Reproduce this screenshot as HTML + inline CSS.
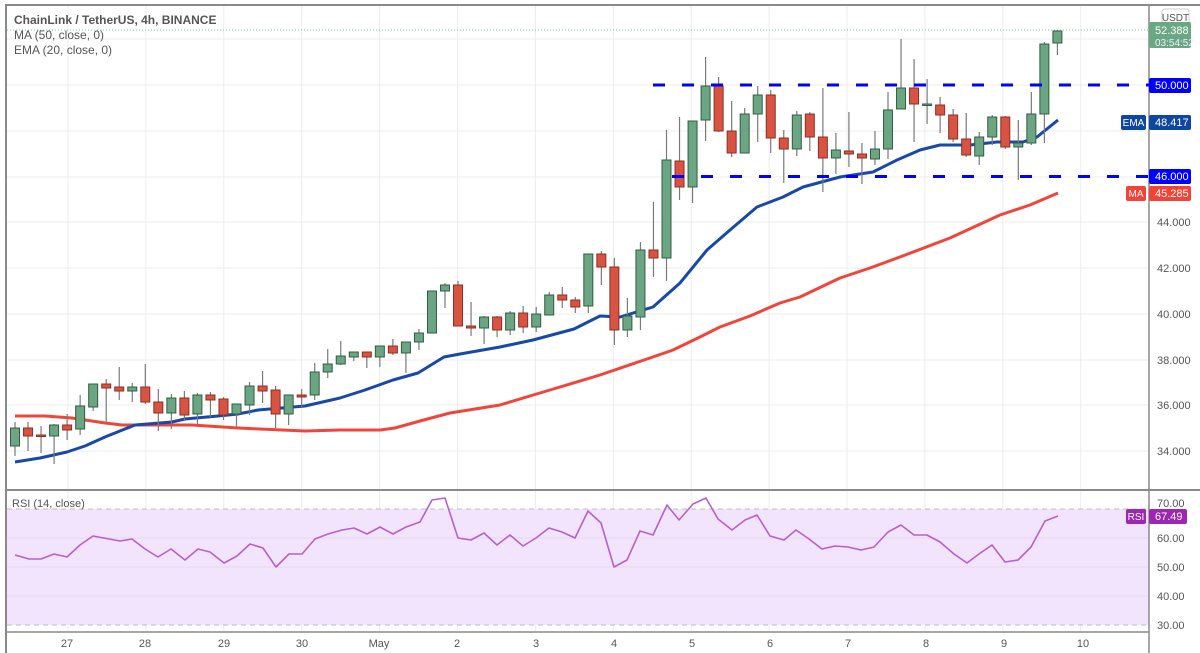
<!DOCTYPE html>
<html><head><meta charset="utf-8"><style>
html,body{margin:0;padding:0;background:#fff;}
svg{display:block;font-family:"Liberation Sans",sans-serif;}
</style></head><body>
<svg id="s" width="1200" height="653" viewBox="0 0 1200 653" xmlns="http://www.w3.org/2000/svg">
<rect x="0" y="0" width="1200" height="653" fill="#fff"/>
<g id="grid" stroke="#ececec" stroke-width="1"></g>
<rect x="7" y="509" width="1142" height="116" fill="#f3e4fd"/>
<g stroke="#e4d8ea" stroke-width="1">
<line x1="7" y1="538" x2="1149" y2="538"/><line x1="7" y1="567" x2="1149" y2="567"/><line x1="7" y1="596" x2="1149" y2="596"/>
</g>
<g stroke="#bdbdbd" stroke-width="1" stroke-dasharray="5,4">
<line x1="7" y1="509" x2="1149" y2="509"/><line x1="7" y1="625" x2="1149" y2="625"/>
</g>
<line x1="6" y1="4" x2="6" y2="653" stroke="#8a8a8a" stroke-width="2"/>
<line x1="6" y1="5" x2="1200" y2="5" stroke="#8a8a8a" stroke-width="2"/>
<line x1="1149" y1="5" x2="1149" y2="653" stroke="#8a8a8a" stroke-width="1.5"/>
<line x1="7" y1="490" x2="1200" y2="490" stroke="#8a8a8a" stroke-width="2"/>
<line x1="7" y1="632" x2="1149" y2="632" stroke="#8a8a8a" stroke-width="1.5"/>
<line x1="7" y1="30" x2="1149" y2="30" stroke="#7fc3a5" stroke-width="1" stroke-dasharray="1,2"/>
<g id="ma"></g>
<g id="candles"></g>
<line x1="653" y1="85" x2="1149" y2="85" stroke="#0000ff" stroke-width="3" stroke-dasharray="12,17"/>
<line x1="672" y1="176.5" x2="1149" y2="176.5" stroke="#0000ff" stroke-width="3" stroke-dasharray="12,17"/>
<g id="rsi"></g>
<g fill="#555" font-size="12">
<text x="14" y="24" font-weight="bold">ChainLink / TetherUS, 4h, BINANCE</text>
<text x="14" y="39">MA (50, close, 0)</text>
<text x="14" y="54">EMA (20, close, 0)</text>
<text x="12" y="507" font-size="11">RSI (14, close)</text>
</g>
<g fill="#555" font-size="11">
<text x="1157" y="226">44.000</text><text x="1157" y="272">42.000</text>
<text x="1157" y="318">40.000</text><text x="1157" y="364">38.000</text>
<text x="1157" y="409">36.000</text><text x="1157" y="455">34.000</text>
<text x="1157" y="507">70.00</text><text x="1157" y="542">60.00</text>
<text x="1157" y="571">50.00</text><text x="1157" y="600">40.00</text>
<text x="1157" y="629">30.00</text>
</g>
<g fill="#555" font-size="11" text-anchor="middle">
<text x="67" y="647">27</text><text x="145" y="647">28</text><text x="224" y="647">29</text>
<text x="302" y="647">30</text><text x="379" y="647">May</text><text x="457" y="647">2</text>
<text x="536" y="647">3</text><text x="614" y="647">4</text><text x="692" y="647">5</text>
<text x="770" y="647">6</text><text x="848" y="647">7</text><text x="926" y="647">8</text>
<text x="1004" y="647">9</text><text x="1083" y="647">10</text>
</g>
<rect x="1162" y="9" width="27" height="16" rx="3" fill="#fff" stroke="#ccc"/>
<text x="1175.5" y="21" font-size="10" fill="#555" text-anchor="middle">USDT</text>
<rect x="1149" y="22" width="42" height="26" rx="2" fill="#6aa884"/>
<text x="1155" y="34" font-size="11" fill="#fff">52.388</text>
<text x="1155" y="46" font-size="10" fill="#eef">03:54:52</text>
<rect x="1149" y="78" width="42" height="15" rx="2" fill="#0000ff"/>
<text x="1155" y="89" font-size="11" fill="#fff">50.000</text>
<rect x="1121" y="115" width="25" height="15" rx="2" fill="#0d47a1"/>
<text x="1133.5" y="126" font-size="10" fill="#fff" text-anchor="middle">EMA</text>
<rect x="1149" y="115" width="42" height="15" rx="2" fill="#0d47a1"/>
<text x="1155" y="126" font-size="11" fill="#fff">48.417</text>
<rect x="1149" y="169" width="42" height="15" rx="2" fill="#0000ff"/>
<text x="1155" y="180" font-size="11" fill="#fff">46.000</text>
<rect x="1126" y="186" width="20" height="15" rx="2" fill="#f44336"/>
<text x="1136" y="197" font-size="10" fill="#fff" text-anchor="middle">MA</text>
<rect x="1149" y="186" width="42" height="15" rx="2" fill="#f44336"/>
<text x="1155" y="197" font-size="11" fill="#fff">45.285</text>
<rect x="1126" y="509" width="20" height="15" rx="2" fill="#9c27b0"/>
<text x="1136" y="520" font-size="10" fill="#fff" text-anchor="middle">RSI</text>
<rect x="1149" y="509" width="38" height="15" rx="2" fill="#9c27b0"/>
<text x="1155" y="520" font-size="11" fill="#fff">67.49</text>
</svg>
<script>
var NS="http://www.w3.org/2000/svg";
function el(p,t,a){var e=document.createElementNS(NS,t);for(var k in a)e.setAttribute(k,a[k]);p.appendChild(e);return e;}
var g=document.getElementById("grid");
[39,85,131,177,222,268,314,360,405,451].forEach(function(y){el(g,"line",{x1:7,y1:y,x2:1149,y2:y});});
for(var x=68;x<1149;x+=77.9){el(g,"line",{x1:x,y1:6,x2:x,y2:489});el(g,"line",{x1:x,y1:491,x2:x,y2:631});}
var C=[["g",428,446,422,456],["r",428,436,422,451],["r",435,436,426,453],["g",425,436,424,464],["r",425,430,414,440],
["g",406,429,395,435],["g",384,407,384,411],["r",384,388,379,422],["r",387,391,367,400],["g",387,391,383,402],
["r",387,402,364,404],["r",402,413,389,431],["g",398,413,394,429],["r",398,415,391,420],["g",395,414,393,424],
["r",395,400,392,417],["r",399,415,397,420],["g",404,414,404,427],["g",386,405,382,415],["r",386,391,371,403],
["r",390,414,386,428],["g",395,414,395,425],["r",395,397,389,407],["g",372,395,363,400],["g",364,372,349,378],
["g",356,364,341,365],["g",352,357,352,361],["r",352,357,352,368],["g",346,357,346,367],["r",346,353,339,355],
["g",342,353,342,373],["g",333,342,329,350],["g",291,333,291,333],["g",285,291,283,308],["r",285,326,281,326],
["r",326,328,302,336],["g",317,328,316,344],["r",317,330,316,337],["g",313,330,311,335],["r",313,327,306,333],
["g",314,327,307,332],["g",295,315,292,315],["r",295,300,287,308],["r",300,307,297,313],["g",254,306,254,313],
["r",254,267,251,285],["r",267,330,258,345],["g",316,330,298,337],["g",250,317,242,330],["r",250,258,202,277],
["g",160,258,130,281],["r",161,187,117,200],["g",121,187,121,203],["g",86,120,57,141],["r",86,131,77,132],
["r",131,153,101,157],["g",114,153,108,153],["g",95,114,86,142],["r",95,138,90,153],["r",138,149,130,183],
["g",115,149,111,156],["r",114,137,112,151],["r",137,158,88,192],["g",150,158,133,174],["r",151,154,112,167],
["r",154,158,143,184],["g",149,159,131,165],["g",110,149,92,159],["g",88,109,39,109],["r",88,104,59,142],
["g",104,105,79,124],["r",105,115,97,133],["r",115,139,109,142],["r",139,155,113,157],["g",137,156,132,165],
["g",117,137,115,145],["r",117,147,116,149],["g",143,147,120,180],["g",114,143,92,145],["g",44,114,42,143],["g",31,43,30,55]];
var cg=document.getElementById("candles");
C.forEach(function(c,i){var x=15+i*13.03;
el(cg,"line",{x1:x,y1:c[3],x2:x,y2:c[4],stroke:"#7a7a7c","stroke-width":1.2});
var gr=c[0]=="g";el(cg,"rect",{x:x-4.5,y:c[1],width:9,height:Math.max(1.5,c[2]-c[1]),fill:gr?"#6ba583":"#d75442",stroke:gr?"#2f5e40":"#8f2e22","stroke-width":1});});
var mg=document.getElementById("ma");
function pl(p,pts,col,w){el(p,"polyline",{points:pts.map(function(q){return q.join(",")}).join(" "),fill:"none",stroke:col,"stroke-width":w,"stroke-linejoin":"round"});}
pl(mg,[[15,416],[45,416],[72,418],[105,423],[122,425],[155,425],[192,425],[238,428],[305,431],[340,430],[380,430],[395,428],[420,421],[450,413],[500,405],[550,390],[600,375],[650,358],[673,350],[700,337],[720,327],[750,316],[780,303],[800,297],[840,278],[870,268],[900,257],[950,238],[1000,215],[1030,205],[1058,193]],"#f0453a",3);
pl(mg,[[15,462],[40,458],[67,452],[85,446],[105,437],[135,425],[172,422],[185,419],[218,416],[238,414],[258,410],[305,406],[340,398],[365,390],[393,380],[418,373],[444,357],[460,354],[500,347],[533,340],[574,329],[600,316],[620,317],[653,307],[680,283],[707,250],[730,230],[757,207],[783,197],[803,187],[840,177],[873,172],[897,160],[920,150],[940,145],[970,145],[997,142],[1023,142],[1037,137],[1058,120]],"#1848a8",3);
var rg=document.getElementById("rsi");
pl(rg,[[15,555],[29,559],[41,559],[54,554],[67,557],[80,545],[93,536],[120,541],[132,539],[145,549],[158,557],[171,549],[185,560],[198,549],[210,552],[224,563],[237,556],[250,544],[263,548],[276,567],[289,554],[302,554],[315,539],[328,534],[342,530],[354,528],[367,534],[380,527],[393,534],[406,527],[420,522],[432,500],[445,498],[458,538],[471,540],[484,533],[497,545],[510,535],[523,546],[536,538],[549,528],[562,532],[575,538],[588,511],[601,523],[614,567],[627,560],[640,531],[653,535],[667,505],[679,520],[693,504],[706,498],[718,519],[732,530],[745,520],[757,515],[770,536],[784,540],[796,530],[809,539],[822,549],[835,546],[848,547],[861,550],[874,547],[888,532],[901,525],[914,535],[927,535],[940,542],[954,554],[967,563],[979,554],[992,545],[1005,562],[1018,560],[1031,547],[1045,521],[1058,516]],"#b660d0",1.6);
</script>
</body></html>
